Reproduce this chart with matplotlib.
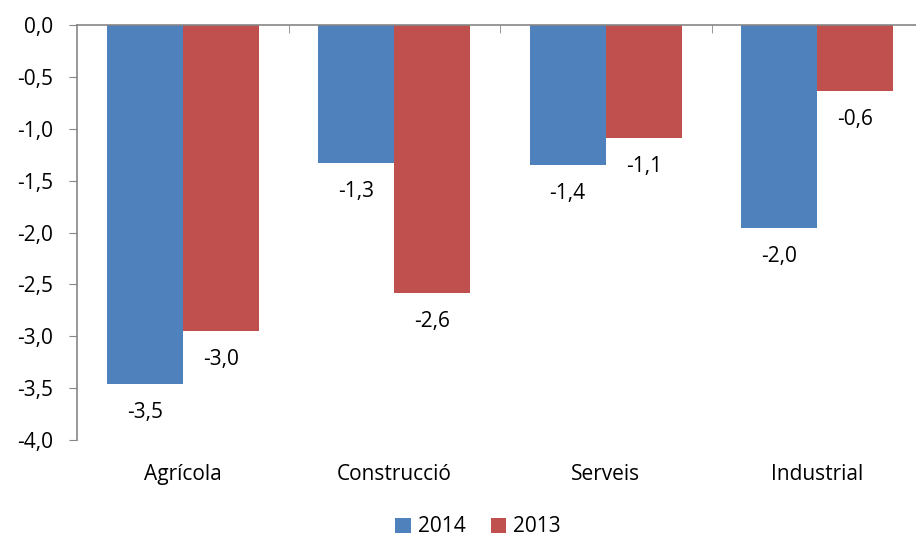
import matplotlib
matplotlib.use('agg')
import numpy as np
import matplotlib.pyplot as plt
from matplotlib.ticker import FuncFormatter

categories = ['Agrícola', 'Construcció', 'Serveis', 'Industrial']
vals_2014 = [-3.46, -1.33, -1.35, -1.96]
vals_2013 = [-2.95, -2.58, -1.09, -0.64]
labels_2014 = ['-3,5', '-1,3', '-1,4', '-2,0']
labels_2013 = ['-3,0', '-2,6', '-1,1', '-0,6']

plt.rcParams['font.family'] = ['Open Sans', 'DejaVu Sans']
fs = 15

fig = plt.figure(figsize=(9.16, 5.42), dpi=100)
ax = fig.add_axes([77/916, (542-440)/542, 846/916, 415/542])

x = np.arange(len(categories))
w = 0.36
b1 = ax.bar(x - w/2, vals_2014, w, color='#4f81bd', label='2014')
b2 = ax.bar(x + w/2, vals_2013, w, color='#c0504d', label='2013')

# value labels under the bar ends
for bars, labs in ((b1, labels_2014), (b2, labels_2013)):
    for r, t in zip(bars, labs):
        ax.annotate(t, (r.get_x() + r.get_width()/2, r.get_height()),
                    xytext=(0, -13), textcoords='offset points',
                    ha='center', va='top', fontsize=fs, color='black')

ax.set_xlim(-0.5, len(categories) - 0.5)
ax.set_ylim(-4.0, 0.0)
ax.set_yticks(np.arange(-4.0, 0.01, 0.5))
ax.yaxis.set_major_formatter(FuncFormatter(lambda v, p: ('%.1f' % v).replace('.', ',')))
ax.tick_params(axis='y', direction='out', length=6, color='#868686', labelsize=fs, pad=11)

# category axis sits at zero (top), labels below plot area
ax.set_xticks(x)
ax.set_xticklabels([])
ax.set_xticks(np.arange(0.5, len(categories) - 0.5, 1), minor=True)
ax.xaxis.set_ticks_position('top')
ax.tick_params(axis='x', which='major', length=0)
ax.tick_params(axis='x', which='minor', direction='in', length=6, color='#868686')
for i, c in enumerate(categories):
    ax.annotate(c, (i, -4.0), xytext=(0, -17), textcoords='offset points',
                ha='center', va='top', fontsize=fs, annotation_clip=False)

for s in ['right', 'bottom']:
    ax.spines[s].set_visible(False)
for s in ['left', 'top']:
    ax.spines[s].set_color('#868686')
    ax.spines[s].set_linewidth(1.2)

fig.legend(handles=[b1, b2], loc='center', bbox_to_anchor=(478/916, 1 - 527/542),
           ncol=2, frameon=False, fontsize=fs, handlelength=0.75, handleheight=0.75,
           handletextpad=0.35, columnspacing=1.2)

fig.savefig('out.png', dpi=100)
